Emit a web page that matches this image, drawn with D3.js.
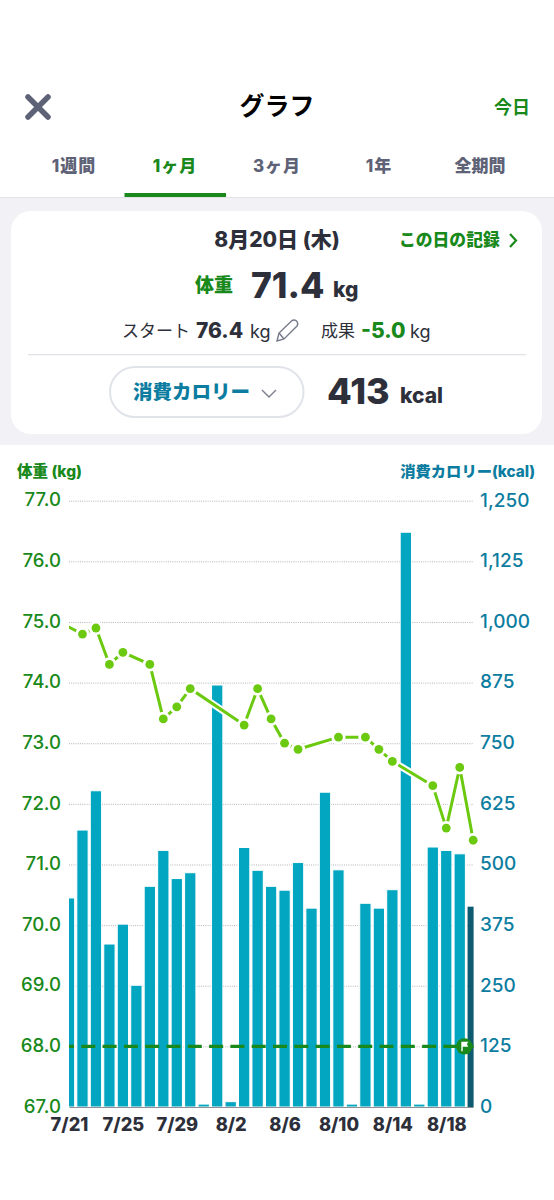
<!DOCTYPE html>
<html lang="ja">
<head>
<meta charset="utf-8">
<script src="https://cdn.jsdelivr.net/npm/d3@7"></script>
<style>
html,body{margin:0;padding:0;background:#fff}
svg{display:block}
text{font-family:Inter,"Noto Sans CJK JP",sans-serif}
</style>
</head>
<body>
<svg id="c" width="554" height="1200" viewBox="0 0 554 1200"></svg>
<script>
const dates = ["7/21","7/22","7/23","7/24","7/25","7/26","7/27","7/28","7/29","7/30","7/31","8/1","8/2","8/3","8/4","8/5","8/6","8/7","8/8","8/9","8/10","8/11","8/12","8/13","8/14","8/15","8/16","8/17","8/18","8/19","8/20"];
const calories = [431,571,652,336,377,251,455,529,471,483,6,870,11,535,488,455,447,504,410,649,489,6,420,410,448,1185,6,536,529,522,413];
// 7/20 sits just outside the plot: only its incoming line shows at the left edge
const weightDates = ["7/20","7/22","7/23","7/24","7/25","7/27","7/28","7/29","7/30","8/3","8/4","8/5","8/6","8/7","8/10","8/12","8/13","8/14","8/17","8/18","8/19","8/20"];
const weights = [75.03,74.8,74.9,74.3,74.5,74.3,73.4,73.6,73.9,73.3,73.9,73.4,73.0,72.9,73.1,73.1,72.9,72.7,72.3,71.6,72.6,71.4];
const weightTicks = [67,68,69,70,71,72,73,74,75,76,77];
const kcalTicks = [0,125,250,375,500,625,750,875,1000,1125,1250];
const dateTicks = ["7/21","7/25","7/29","8/2","8/6","8/10","8/14","8/18"];
const goalWeight = 68;
const tabs = ["1週間","1ヶ月","3ヶ月","1年","全期間"];

const GREEN="#18891a", TEAL="#0c7da0", DARK="#2d2f3a", GRAY="#5e6276", BAR="#03a6c0", BAR_LAST="#0c5a70", LINE="#6bc90f";
const svg=d3.select("#c");
const L=69,R=473.6,T=500.7,B=1107;
const FONT='Inter,"Noto Sans CJK JP",sans-serif';

function txt(x,y,s,size,fill,weight,anchor){
  return svg.append("text").attr("x",x).attr("y",y).attr("font-size",size).attr("fill",fill)
    .attr("font-weight",weight||400).attr("text-anchor",anchor||"start").text(s);
}
// panels
svg.append("rect").attr("x",0).attr("y",197).attr("width",554).attr("height",248).attr("fill","#f1f1f6");
svg.append("line").attr("x1",0).attr("x2",554).attr("y1",197.5).attr("y2",197.5).attr("stroke","#e2e2e8");
svg.append("rect").attr("x",11).attr("y",211).attr("width",531).attr("height",223).attr("rx",20).attr("fill","#fff");

// header
svg.append("path").attr("d","M28 97L48 117M48 97L28 117").attr("stroke",GRAY).attr("stroke-width",5.5).attr("stroke-linecap","round");
txt(277,115,"グラフ",25,"#000",700,"middle");
txt(512,114,"今日",18,GREEN,700,"middle");
const tabX=[74,175,277,379,480];
tabs.forEach((t,i)=>txt(tabX[i],172,t,17,i===1?GREEN:GRAY,800,"middle").attr("letter-spacing",i===4?0:1));
svg.append("rect").attr("x",124.5).attr("y",193).attr("width",101.5).attr("height",4).attr("fill",GREEN);

// summary card
txt(277,247,"8月20日 (木)",21,DARK,800,"middle");
txt(399,246,"この日の記録",16.8,GREEN,800);
svg.append("path").attr("d","M510 234L516 240.5L510 247").attr("fill","none").attr("stroke",GREEN).attr("stroke-width",2.2);
txt(195,292,"体重",19,GREEN,800);
txt(251,298,"71.4",35.5,DARK,800);
txt(333,297,"kg",21,DARK,800);
txt(122,337,"スタート",17,DARK,400);
txt(196,338,"76.4",21,DARK,800);
txt(250,338,"kg",18,DARK,400);
svg.append("path").attr("d","M277 341L279 333L292 320.5Q295 319 297 321.5Q298.5 324 297 326L284 339Z M279.5 333.5L284 339")
  .attr("fill","none").attr("stroke","#75798a").attr("stroke-width",1.4);
txt(321,337,"成果",17,DARK,400);
txt(361,338,"-5.0",21,GREEN,800);
txt(410,338,"kg",18,DARK,400);
svg.append("line").attr("x1",28).attr("x2",526).attr("y1",354.7).attr("y2",354.7).attr("stroke","#e1e2e8").attr("stroke-width",1.3);
svg.append("rect").attr("x",110).attr("y",367).attr("width",193.5).attr("height",50).attr("rx",25).attr("fill","#fff").attr("stroke","#e1e3ea").attr("stroke-width",2);
txt(133,399,"消費カロリー",19.5,TEAL,800);
svg.append("path").attr("d","M262 390L269 397L276 390").attr("fill","none").attr("stroke","#7a7e8c").attr("stroke-width",1.4);
txt(327,404,"413",36,DARK,800);
txt(400,403,"kcal",21,DARK,800);

// chart
const x=d3.scaleLinear().domain([0,dates.length-1]).range([L,473.2]);
const xOf=d=>x(d==="7/20"?-1:dates.indexOf(d));
const yW=d3.scaleLinear().domain([67,77]).range([B,T]);
const yK=d3.scaleLinear().domain([0,1250]).range([B,T]);
const barW=11.3;

const defs=svg.append("defs");
defs.append("clipPath").attr("id","plot").append("rect").attr("x",L).attr("y",T-10).attr("width",R-L).attr("height",B-T+10);
defs.append("clipPath").attr("id","lineClip").append("rect").attr("x",L).attr("y",T-10).attr("width",R-L+20).attr("height",B-T+10);

txt(17,477,"体重 (kg)",15.5,GREEN,800);
txt(535,477,"消費カロリー(kcal)",15.3,TEAL,800,"end");

// grid + left axis
const axL=svg.append("g").attr("transform",`translate(${L},0)`)
  .call(d3.axisLeft(yW).tickValues(weightTicks).tickFormat(d=>d.toFixed(1)).tickSize(0).tickPadding(8));
axL.select(".domain").remove();
axL.selectAll("text").attr("font-size",18.6).attr("font-weight",500).attr("fill",GREEN).attr("font-family",FONT).attr("dy","0.28em");
const grid=svg.append("g").attr("transform",`translate(${L},0)`)
  .call(d3.axisLeft(yW).tickValues(weightTicks.slice(1)).tickFormat("").tickSize(-(R-L)));
grid.select(".domain").remove();
grid.selectAll("line").attr("stroke","#b4b4b8").attr("stroke-width",1).attr("stroke-dasharray","1 1.2");

const axR=svg.append("g").attr("transform",`translate(${R},0)`)
  .call(d3.axisRight(yK).tickValues(kcalTicks).tickFormat(d3.format(",")).tickSize(0).tickPadding(6.5));
axR.select(".domain").remove();
axR.selectAll("text").attr("font-size",19).attr("font-weight",500).attr("fill",TEAL).attr("font-family",FONT).attr("dy","0.28em");

// bars
svg.append("g").attr("clip-path","url(#plot)").selectAll("rect").data(calories).join("rect")
  .attr("x",(d,i)=>x(i)-barW/2).attr("width",barW)
  .attr("y",d=>yK(d)).attr("height",d=>B-yK(d))
  .attr("fill",(d,i)=>i===calories.length-1?BAR_LAST:BAR)
  .attr("stroke","#fff").attr("stroke-width",(d,i)=>i===calories.length-1?0:1);

// baseline + x axis
const axX=svg.append("g").attr("transform",`translate(0,${B})`)
  .call(d3.axisBottom(x).tickValues(dateTicks.map(d=>dates.indexOf(d))).tickFormat(i=>dates[i]).tickSize(0).tickPadding(11));
axX.select(".domain").attr("stroke","#8f8f96").attr("stroke-width",1);
axX.selectAll("text").attr("font-size",18.3).attr("font-weight",800).attr("fill",DARK).attr("font-family",FONT);

// goal
svg.append("line").attr("x1",L).attr("x2",R).attr("y1",yW(goalWeight)).attr("y2",yW(goalWeight))
  .attr("stroke",GREEN).attr("stroke-width",3.2).attr("stroke-dasharray","14 7.3").attr("stroke-dashoffset",9);

// weight line
const pts=weightDates.map((d,i)=>({d,w:weights[i]}));
const line=d3.line().x(p=>xOf(p.d)).y(p=>yW(p.w));
const lg=svg.append("g").attr("clip-path","url(#lineClip)");
lg.append("path").datum(pts).attr("d",line).attr("fill","none").attr("stroke","#fff").attr("stroke-width",7);
lg.append("path").datum(pts).attr("d",line).attr("fill","none").attr("stroke",LINE).attr("stroke-width",3);
lg.selectAll("circle").data(pts).join("circle").attr("cx",p=>xOf(p.d)).attr("cy",p=>yW(p.w)).attr("r",4.4)
  .attr("fill",LINE).attr("stroke","#fff").attr("stroke-width",5.5).attr("paint-order","stroke");

// goal flag
const fx=464.3, fy=yW(goalWeight);
svg.append("circle").attr("cx",fx).attr("cy",fy).attr("r",8.2).attr("fill",GREEN);
svg.append("path").attr("d",`M${fx-3} ${fy-4.5}H${fx+4}L${fx+2.6} ${fy-2}L${fx+4} ${fy+0.5}H${fx-1.6}V${fy+5}H${fx-3}Z`).attr("fill","#fff");
</script>
</body>
</html>
